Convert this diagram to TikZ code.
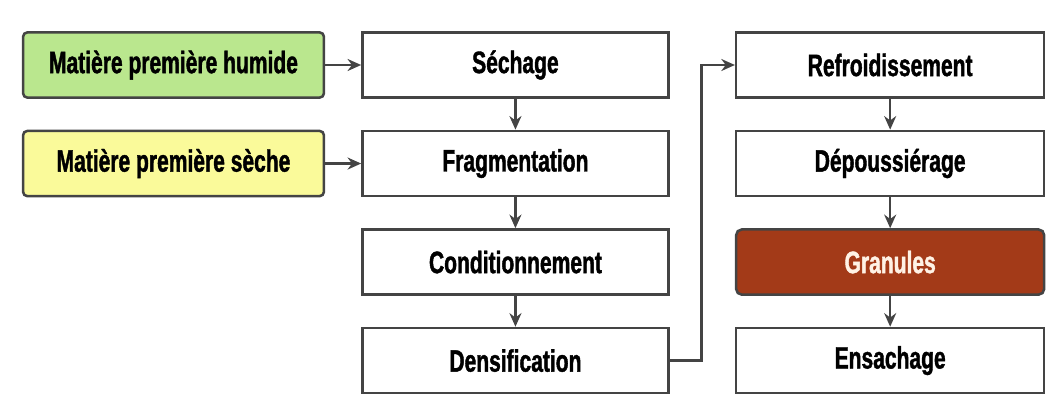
\documentclass[tikz,border=0pt]{standalone}
\usepackage{fontspec}
\setmainfont[FakeStretch=0.68, BoldFeatures={FakeBold=1.3}]{Liberation Sans}
\usetikzlibrary{arrows.meta,positioning}

\definecolor{humidegreen}{HTML}{BAE78E}
\definecolor{secheyellow}{HTML}{FAFA9A}
\definecolor{granulered}{HTML}{A33A18}
\definecolor{boxgray}{HTML}{444444}

\begin{document}
\begin{tikzpicture}[node distance=0.77cm and 0.9cm,
		every node/.style={font=\fontsize{22}{26}\selectfont\bfseries},
		etape/.style={draw=boxgray, line width=1.8pt, fill=white, minimum width=7.65cm, minimum height=1.63cm, inner sep=0pt},
		entree/.style={etape, rounded corners=3pt, minimum width=7.52cm},
		arr/.style={draw=boxgray, line width=1.8pt, -{Stealth[length=3.4mm, width=3mm]}}]
		\useasboundingbox (0,0) rectangle (26.425,-10.475);
		% Nodes
		\node (humide) [entree, fill=humidegreen] at (4.3375,-1.625) {Matière première humide};
		\node (seche) [entree, fill=secheyellow, below=of humide] {Matière première sèche};
		\node (sech) [etape, right=of humide] {Séchage};
		\node (frag) [etape, below=of sech] {Fragmentation};
		\node (cond) [etape, below=of frag] {Conditionnement};
		\node (dens) [etape, below=of cond] {Densification};
		\node (refr) [etape, minimum width=7.7cm, right=1.63cm of sech] {Refroidissement};
		\node (depo) [etape, minimum width=7.7cm, below=of refr] {Dépoussiérage};
		\node (gran) [etape, minimum width=7.7cm, rounded corners=4pt, fill=granulered, text=white!90!orange, below=of depo] {Granules};
		\node (ensa) [etape, minimum width=7.7cm, below=of gran] {Ensachage};
		% Edges
		\draw[arr] (humide) -- (sech);
		\draw[arr] (seche) -- (frag);
		\draw[arr] (sech) -- (frag);
		\draw[arr] (frag) -- (cond);
		\draw[arr] (cond) -- (dens);
		\draw[arr] (dens.east) -- ++(0.8,0) |- (refr.west);
		\draw[arr] (refr) -- (depo);
		\draw[arr] (depo) -- (gran);
		\draw[arr] (gran) -- (ensa);
	\end{tikzpicture}
\end{document}
